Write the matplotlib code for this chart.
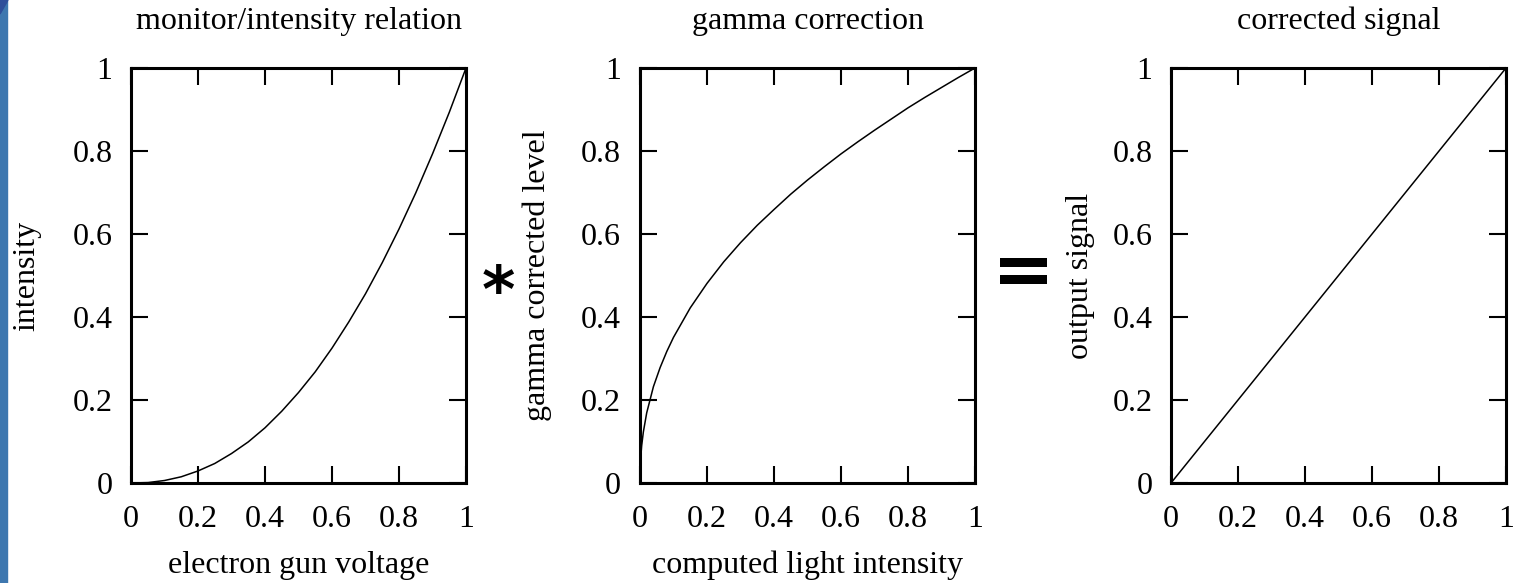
import matplotlib
matplotlib.use('Agg')
import matplotlib.pyplot as plt
from matplotlib.patches import Rectangle, Polygon

plt.rcParams['font.family'] = ['Liberation Serif', 'DejaVu Serif']

# Значения
volt = [0, 0.05, 0.1, 0.15, 0.2, 0.25, 0.3, 0.35, 0.4, 0.45, 0.5,
        0.55, 0.6, 0.65, 0.7, 0.75, 0.8, 0.85, 0.9, 0.95, 1]
intens = [0, 0.001, 0.006, 0.015, 0.029, 0.047, 0.071, 0.099, 0.133, 0.173, 0.218,
          0.268, 0.325, 0.388, 0.456, 0.531, 0.612, 0.699, 0.793, 0.893, 1]

light = [0, 0.002, 0.005, 0.01, 0.02, 0.04, 0.06, 0.08, 0.1, 0.15, 0.2, 0.25, 0.3,
         0.35, 0.4, 0.45, 0.5, 0.55, 0.6, 0.65, 0.7, 0.75, 0.8, 0.85, 0.9, 0.95, 1]
level = [0, 0.059, 0.090, 0.123, 0.169, 0.232, 0.278, 0.317, 0.351, 0.422, 0.481, 0.533, 0.579,
         0.621, 0.659, 0.696, 0.730, 0.762, 0.793, 0.822, 0.850, 0.877, 0.904, 0.929, 0.953, 0.977, 1]

sig_in = [0, 1]
sig_out = [0, 1]

ticks = [0, 0.2, 0.4, 0.6, 0.8, 1]
tick_labels = ['0', '0.2', '0.4', '0.6', '0.8', '1']

panels = [
    (volt, intens, 'monitor/intensity relation', 'electron gun voltage', 'intensity'),
    (light, level, 'gamma correction', 'computed light intensity', 'gamma corrected level'),
    (sig_in, sig_out, 'corrected signal', '', 'output signal'),
]
lefts = [131, 640, 1171]          # левый край каждой панели, px
ylab_x = [-0.310, -0.307, -0.269]  # положение подписи оси y (доли осей)

fig = plt.figure(figsize=(15.2, 5.83), dpi=100)

# Синяя полоса слева (фон слайда)
fig.patches.append(Rectangle((0, 0), 7 / 1520, 1, transform=fig.transFigure,
                             color='#3E77AF', zorder=0))
fig.patches.append(Polygon([(0, 1), (8 / 1520, 1), (0, 1 - 14 / 583)], closed=True,
                           transform=fig.transFigure, color='#2F4F9A', zorder=1))

for (x, y, title, xlab, ylab), left, lx in zip(panels, lefts, ylab_x):
    ax = fig.add_axes([left / 1520, 100 / 583, 335 / 1520, 415 / 583])
    ax.plot(x, y, color='black', linewidth=1.1)
    ax.set_xlim(0, 1)
    ax.set_ylim(0, 1)
    ax.set_xticks(ticks)
    ax.set_xticklabels(tick_labels)
    ax.set_yticks(ticks)
    ax.set_yticklabels(tick_labels)
    ax.tick_params(direction='in', length=12, width=1.5, top=True, right=True,
                   labelsize=23, colors='black')
    ax.tick_params(axis='x', pad=16)
    ax.tick_params(axis='y', pad=13.5)
    for sp in ax.spines.values():
        sp.set_linewidth(2.2)
    ax.set_title(title, fontsize=23, y=1.112, pad=0, va='center')
    if xlab:
        ax.set_xlabel(xlab, fontsize=23, va='center')
        ax.xaxis.set_label_coords(0.5, -0.198)
    ax.set_ylabel(ylab, fontsize=23, va='center')
    ax.yaxis.set_label_coords(lx, 0.5)

# Знаки операций между панелями
fig.text(498 / 1520, 1 - 294 / 583, '*', fontsize=46, fontweight='bold',
         ha='center', va='center', family='DejaVu Sans')
fig.text(1024 / 1520, 1 - 275 / 583, '=', fontsize=54, fontweight='bold',
         ha='center', va='center', family='DejaVu Sans')

fig.savefig('out.png', dpi=100)
